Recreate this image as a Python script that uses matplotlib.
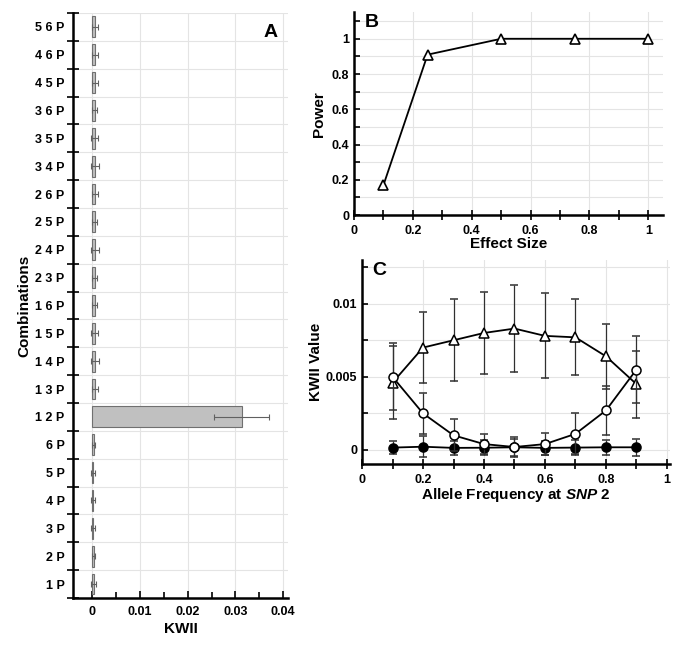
import matplotlib
matplotlib.use("Agg")
import matplotlib.pyplot as plt
from matplotlib.ticker import MultipleLocator, FuncFormatter, FixedLocator
import numpy as np

plt.rcParams['font.family'] = ['Liberation Sans', 'DejaVu Sans']
plt.rcParams['font.weight'] = 'bold'
plt.rcParams['mathtext.fontset'] = 'custom'
plt.rcParams['mathtext.it'] = 'Liberation Sans:italic:bold'
plt.rcParams['mathtext.rm'] = 'Liberation Sans:bold'

# ---------- Data ----------
combos = ["5 6 P", "4 6 P", "4 5 P", "3 6 P", "3 5 P", "3 4 P", "2 6 P", "2 5 P",
          "2 4 P", "2 3 P", "1 6 P", "1 5 P", "1 4 P", "1 3 P", "1 2 P",
          "6 P", "5 P", "4 P", "3 P", "2 P", "1 P"]
kwii = [0.0006, 0.0006, 0.0006, 0.0005, 0.0005, 0.0006, 0.0006, 0.0005,
        0.0006, 0.0005, 0.0005, 0.0005, 0.0006, 0.0006, 0.0313,
        0.0003, 0.0002, 0.0002, 0.0002, 0.0003, 0.0003]
kwii_err = [0.0007, 0.0007, 0.0007, 0.0006, 0.0007, 0.0009, 0.0007, 0.0006,
            0.0008, 0.0006, 0.0006, 0.0008, 0.0008, 0.0007, 0.0057,
            0.0004, 0.0004, 0.0004, 0.0004, 0.0004, 0.0005]

effect_size = [0.1, 0.25, 0.5, 0.75, 1.0]
power = [0.17, 0.91, 1.0, 1.0, 1.0]

allele_freq = [0.1, 0.2, 0.3, 0.4, 0.5, 0.6, 0.7, 0.8, 0.9]
tri_vals = [0.0046, 0.0070, 0.0075, 0.0080, 0.0083, 0.0078, 0.0077, 0.0064, 0.0045]
tri_err = [0.0025, 0.0024, 0.0028, 0.0028, 0.0030, 0.0029, 0.0026, 0.0022, 0.0023]
open_vals = [0.0050, 0.0025, 0.0010, 0.0004, 0.0002, 0.0004, 0.0011, 0.0027, 0.0055]
open_err = [0.0023, 0.0014, 0.0011, 0.0007, 0.0007, 0.00075, 0.0014, 0.0017, 0.0023]
fill_vals = [0.00016, 0.00022, 0.00014, 0.00015, 0.00018, 0.00014, 0.00016, 0.00018, 0.00018]
fill_err = [0.00045, 0.0007, 0.0005, 0.0005, 0.0006, 0.0005, 0.0005, 0.0005, 0.0006]

# ---------- Figure ----------
fig = plt.figure(figsize=(6.85, 6.48), dpi=100)

tick_fs = 9
lab_fs = 11
grid_c = '#e4e4e4'

def style(ax):
    for s in ['top', 'right']:
        ax.spines[s].set_visible(False)
    for s in ['left', 'bottom']:
        ax.spines[s].set_linewidth(1.8)
    ax.tick_params(axis='both', which='both', labelsize=tick_fs, width=1.2)
    for lbl in ax.get_xticklabels() + ax.get_yticklabels():
        lbl.set_fontweight('bold')
    ax.set_axisbelow(True)

fmt = FuncFormatter(lambda v, p: '%g' % round(v, 6))

# Panel A
axA = fig.add_axes([0.1066, 0.0772, 0.3138, 0.9028])
n = len(combos)
ypos = np.arange(n)[::-1]
axA.barh(ypos, kwii, height=0.75, color='#c0c0c0', edgecolor='#707070', linewidth=0.8,
         xerr=kwii_err, error_kw=dict(ecolor='#606060', elinewidth=0.8, capsize=2, capthick=0.8),
         zorder=2)
axA.set_ylim(-0.5, n - 0.5)
axA.set_xlim(-0.004, 0.041)
axA.set_yticks(ypos)
axA.set_yticklabels(combos)
axA.yaxis.set_minor_locator(FixedLocator(np.arange(-0.5, n, 1.0)))
axA.tick_params(axis='y', which='major', length=0, pad=6)
axA.tick_params(axis='y', which='minor', direction='inout', length=9, width=1.2)
axA.xaxis.set_major_locator(MultipleLocator(0.01))
axA.xaxis.set_minor_locator(MultipleLocator(0.005))
axA.xaxis.set_major_formatter(fmt)
axA.tick_params(axis='x', which='major', direction='in', length=5, pad=6)
axA.tick_params(axis='x', which='minor', direction='in', length=4)
axA.grid(True, axis='x', which='major', color=grid_c, linewidth=0.8)
axA.grid(True, axis='y', which='minor', color=grid_c, linewidth=0.8)
axA.set_xlabel('KWII', fontsize=lab_fs, fontweight='bold', labelpad=3)
axA.set_ylabel('Combinations', fontsize=lab_fs, fontweight='bold', labelpad=3)
style(axA)
axA.text(0.92, 0.967, 'A', transform=axA.transAxes, fontsize=14, fontweight='bold',
         ha='center', va='center')

# Panel B
axB = fig.add_axes([0.5168, 0.668, 0.4512, 0.313])
axB.plot(effect_size, power, color='black', linewidth=1.3, marker='^', markersize=6.5,
         markerfacecolor='white', markeredgecolor='black', markeredgewidth=1.2, zorder=3)
axB.set_xlim(0, 1.05)
axB.set_ylim(0, 1.15)
axB.xaxis.set_major_locator(MultipleLocator(0.2))
axB.xaxis.set_minor_locator(MultipleLocator(0.1))
axB.yaxis.set_major_locator(MultipleLocator(0.2))
axB.yaxis.set_minor_locator(MultipleLocator(0.1))
axB.xaxis.set_major_formatter(fmt)
axB.yaxis.set_major_formatter(fmt)
axB.tick_params(axis='x', which='both', direction='inout', length=7)
axB.tick_params(axis='y', which='both', direction='in', length=4)
axB.grid(True, axis='x', which='major', color=grid_c, linewidth=0.8)
axB.grid(True, axis='y', which='both', color=grid_c, linewidth=0.8)
axB.set_xlabel('Effect Size', fontsize=lab_fs, fontweight='bold', labelpad=0)
axB.set_ylabel('Power', fontsize=lab_fs, fontweight='bold', labelpad=4)
style(axB)
axB.text(0.058, 0.95, 'B', transform=axB.transAxes, fontsize=14, fontweight='bold',
         ha='center', va='center')

# Panel C
axC = fig.add_axes([0.5285, 0.284, 0.4496, 0.315])
ekw = dict(ecolor='#303030', elinewidth=0.9, capsize=2.8, capthick=0.9)
axC.errorbar(allele_freq, tri_vals, yerr=tri_err, color='black', linewidth=1.3, marker='^',
             markersize=6.5, markerfacecolor='white', markeredgecolor='black',
             markeredgewidth=1.1, zorder=3, **ekw)
axC.errorbar(allele_freq, open_vals, yerr=open_err, color='black', linewidth=1.3, marker='o',
             markersize=6.5, markerfacecolor='white', markeredgecolor='black',
             markeredgewidth=1.1, zorder=4, **ekw)
axC.errorbar(allele_freq, fill_vals, yerr=fill_err, color='black', linewidth=1.3, marker='o',
             markersize=6.5, markerfacecolor='black', markeredgecolor='black',
             markeredgewidth=1.1, zorder=2, **ekw)
axC.set_xlim(0, 1.01)
axC.set_ylim(-0.00096, 0.013)
axC.xaxis.set_major_locator(MultipleLocator(0.2))
axC.xaxis.set_minor_locator(MultipleLocator(0.1))
axC.yaxis.set_major_locator(MultipleLocator(0.005))
axC.yaxis.set_minor_locator(MultipleLocator(0.0025))
axC.xaxis.set_major_formatter(fmt)
axC.yaxis.set_major_formatter(fmt)
axC.tick_params(axis='x', which='both', direction='inout', length=7)
axC.tick_params(axis='y', which='both', direction='in', length=4)
axC.grid(True, axis='x', which='major', color=grid_c, linewidth=0.8)
axC.grid(True, axis='y', which='both', color=grid_c, linewidth=0.8)
axC.set_xlabel('Allele Frequency at $\\mathit{SNP\\ 2}$', fontsize=lab_fs,
               fontweight='bold', labelpad=0)
axC.set_ylabel('KWII Value', fontsize=lab_fs, fontweight='bold', labelpad=2)
style(axC)
axC.text(0.055, 0.946, 'C', transform=axC.transAxes, fontsize=14, fontweight='bold',
         ha='center', va='center')

fig.savefig('out.png', dpi=100)
